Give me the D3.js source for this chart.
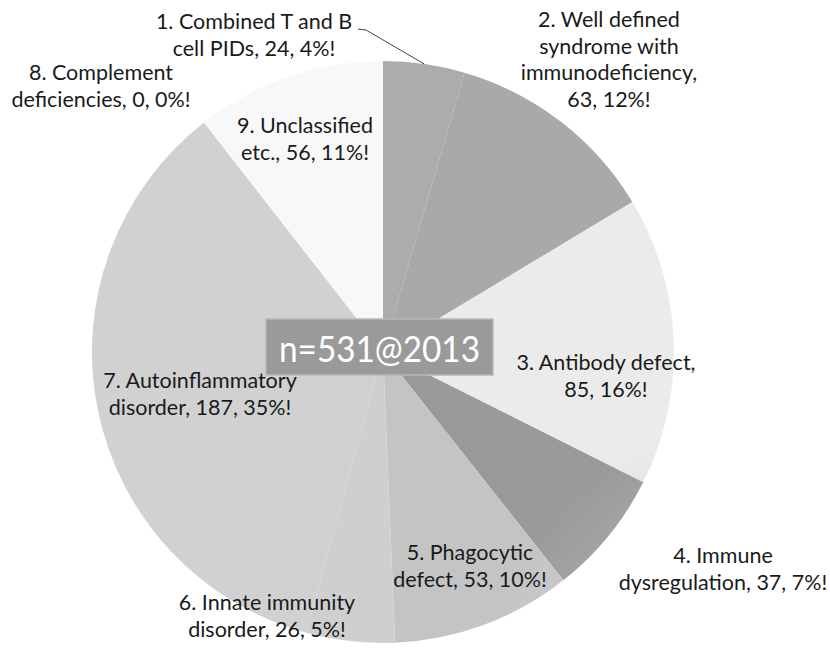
<!DOCTYPE html>
<html>
<head>
<meta charset="utf-8">
<script src="https://cdn.jsdelivr.net/npm/d3@7"></script>
<style>
  html, body { margin: 0; padding: 0; background: #ffffff; }
  svg { display: block; }
  text { font-family: Lato, "Open Sans", "DejaVu Sans", sans-serif; }
</style>
</head>
<body>
<svg id="chart" width="830" height="648"></svg>
<script>
// ---------- data ----------
const categories = [
  "Combined T and B cell PIDs",
  "Well defined syndrome with immunodeficiency",
  "Antibody defect",
  "Immune dysregulation",
  "Phagocytic defect",
  "Innate immunity disorder",
  "Autoinflammatory disorder",
  "Complement deficiencies",
  "Unclassified etc."
];
const counts   = [24, 63, 85, 37, 53, 26, 187, 0, 56];
const percents = [4, 12, 16, 7, 10, 5, 35, 0, 11];
// label text lines; the final entry is the prefix of the line that carries "count, pct%!"
const labelLines = [
  ["1. Combined T and B", "cell PIDs, "],
  ["2. Well defined", "syndrome with", "immunodeficiency,", ""],
  ["3. Antibody defect,", ""],
  ["4. Immune", "dysregulation, "],
  ["5. Phagocytic", "defect, "],
  ["6. Innate immunity", "disorder, "],
  ["7. Autoinflammatory", "disorder, "],
  ["8. Complement", "deficiencies, "],
  ["9. Unclassified", "etc., "]
];
const totalLabel = "n=531@2013";

// ---------- layout / style ----------
const W = 830, H = 648;
const cx = 383, cy = 352, R = 291;
const lineH = 26.5;
// label anchors (centre x, first baseline y)
const labelAnchors = [
  [254, 29], [609, 27], [606, 370], [723, 563], [470, 560],
  [267, 610], [200, 388], [101, 80], [305, 133]
];
// radial gradient stops per slice [inner, outer]
const sliceShades = [
  ["#949494", "#acacac"],
  ["#8e8e8e", "#a9a9a9"],
  ["#c8c8c8", "#ebebeb"],
  ["#c6c6c6", "#999999"],
  ["#d8d8d8", "#c4c4c4"],
  ["#dcdcdc", "#cfcfcf"],
  ["#dadada", "#d1d1d1"],
  ["#e0e0e0", "#e0e0e0"],
  ["#f4f4f4", "#f8f8f8"]
];

const svg = d3.select("#chart");
const defs = svg.append("defs");

sliceShades.forEach((s, i) => {
  const g = defs.append("radialGradient")
    .attr("id", "grad" + i)
    .attr("gradientUnits", "userSpaceOnUse")
    .attr("cx", cx).attr("cy", cy).attr("r", R);
  g.append("stop").attr("offset", "0%").attr("stop-color", s[0]);
  g.append("stop").attr("offset", "100%").attr("stop-color", s[1]);
});

const data = categories.map((c, i) => ({ name: c, value: counts[i], pct: percents[i], idx: i }));

const pie = d3.pie().value(d => d.value).sort(null);
const arc = d3.arc().innerRadius(0).outerRadius(R);
const arcs = pie(data);

const g = svg.append("g").attr("transform", `translate(${cx},${cy})`);
g.selectAll("path.slice")
  .data(arcs)
  .join("path")
  .attr("class", "slice")
  .attr("d", arc)
  .attr("fill", d => `url(#grad${d.data.idx})`);

// leader line for slice 1
const a1 = arcs[0];
const mid1 = (a1.startAngle + a1.endAngle) / 2;
const p1 = [cx + R * Math.sin(mid1), cy - R * Math.cos(mid1)];
const la = labelAnchors[0];
svg.append("path")
  .attr("d", d3.line()([[la[0] + 104, la[1]], [la[0] + 112, la[1] + 1], p1]))
  .attr("fill", "none")
  .attr("stroke", "#444")
  .attr("stroke-width", 1);

// labels
data.forEach((d, i) => {
  const lines = labelLines[i].slice();
  lines[lines.length - 1] = lines[lines.length - 1] + `${d.value}, ${d.pct}%!`;
  const t = svg.append("text")
    .attr("x", labelAnchors[i][0])
    .attr("y", labelAnchors[i][1])
    .attr("text-anchor", "middle")
    .attr("font-size", 21.5)
    .attr("fill", "#1a1a1a");
  lines.forEach((ln, k) => {
    t.append("tspan")
      .attr("x", labelAnchors[i][0])
      .attr("y", labelAnchors[i][1] + k * lineH)
      .text(ln);
  });
});

// centre box
svg.append("rect")
  .attr("x", 266).attr("y", 319).attr("width", 227).attr("height", 56)
  .attr("fill", "#9a9a9a")
  .attr("stroke", "#b8b8b8").attr("stroke-width", 1.5);
svg.append("text")
  .attr("x", 379.5).attr("y", 362)
  .attr("text-anchor", "middle")
  .attr("font-size", 37)
  .attr("fill", "#ffffff")
  .attr("textLength", 201)
  .attr("lengthAdjust", "spacingAndGlyphs")
  .text(totalLabel);
</script>
</body>
</html>
